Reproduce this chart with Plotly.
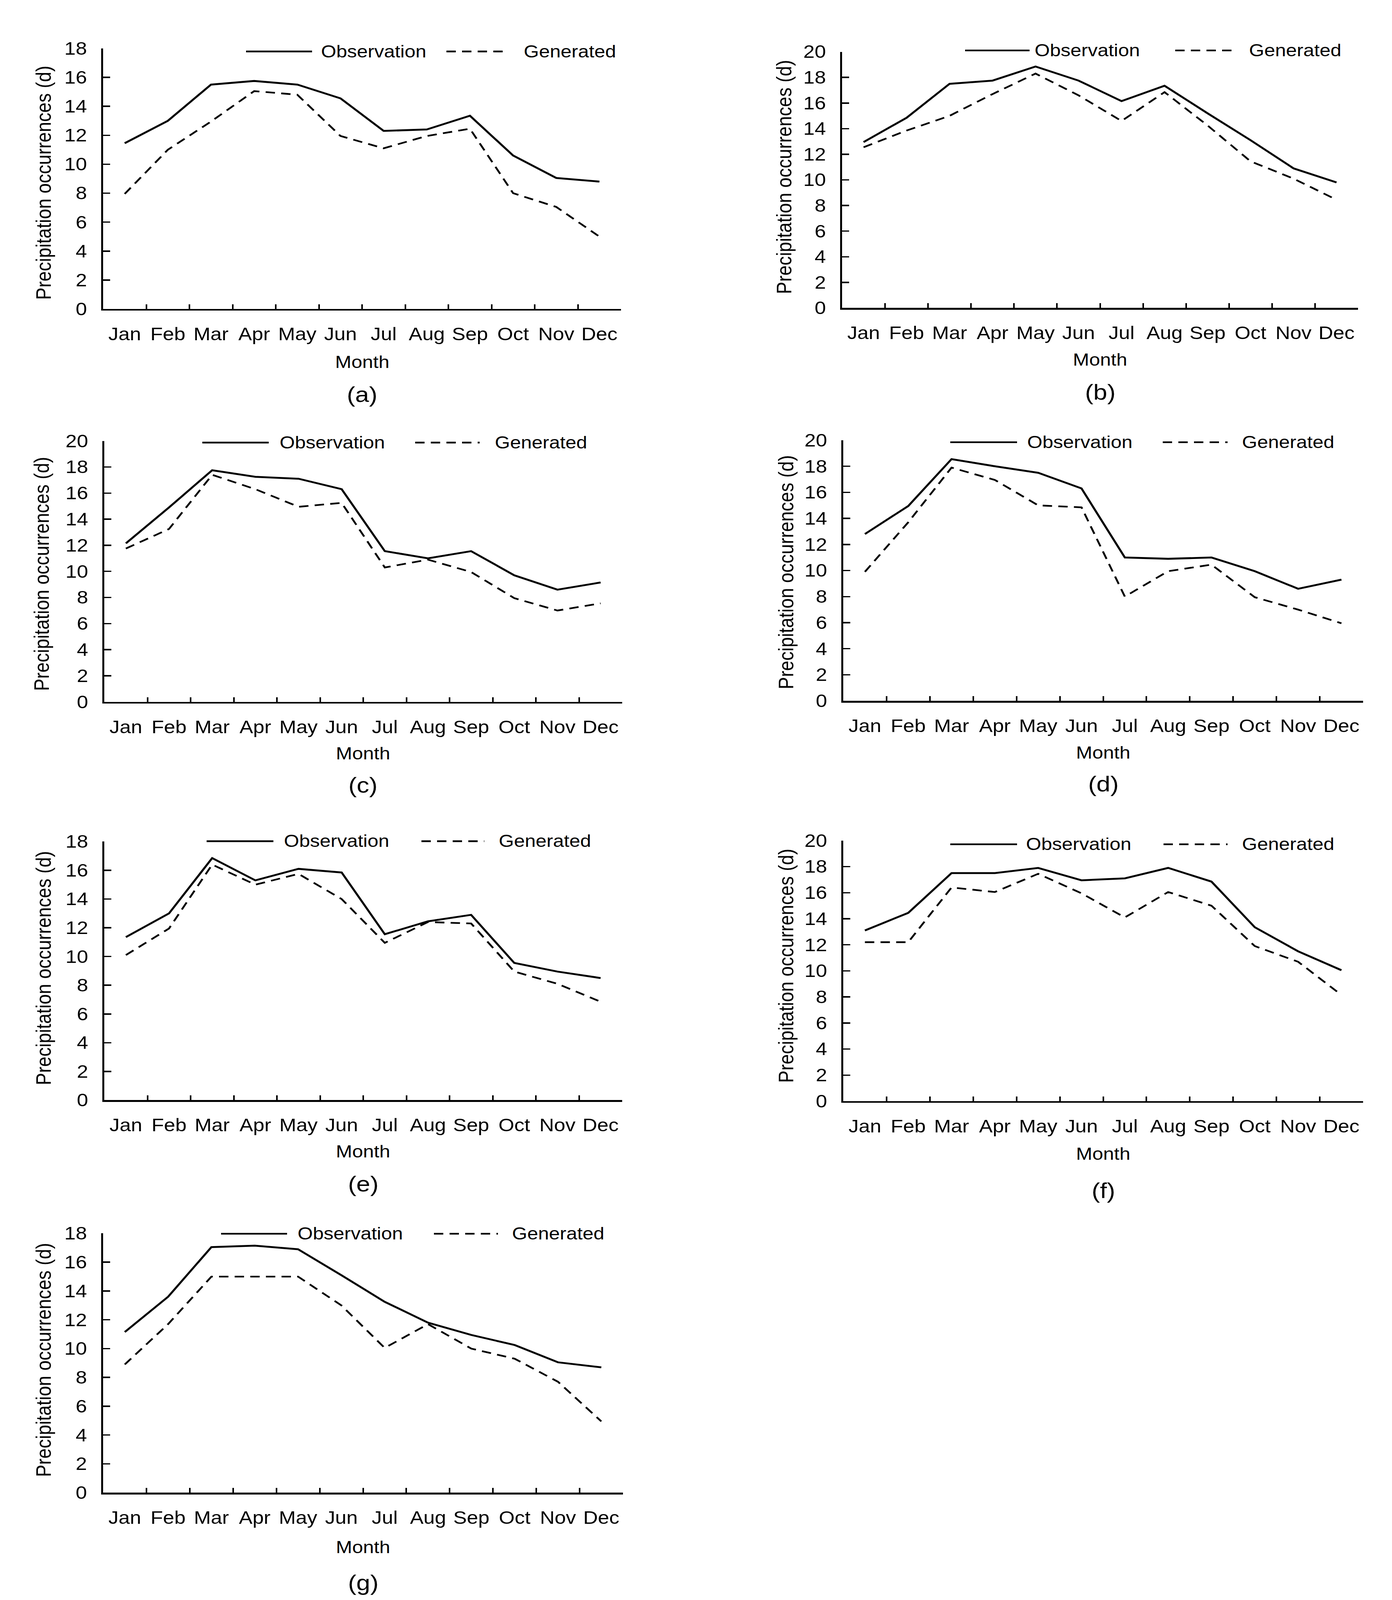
import plotly.graph_objects as go

W, H = 3564, 4696
FONT = "Liberation Sans, Arial, sans-serif"

months = ["Jan", "Feb", "Mar", "Apr", "May", "Jun", "Jul", "Aug", "Sep", "Oct", "Nov", "Dec"]
panel_labels = ["(a)", "(b)", "(c)", "(d)", "(e)", "(f)", "(g)"]
y_max = [18, 20, 20, 20, 18, 20, 18]

obs_a = [11.45, 13.0, 15.5, 15.75, 15.5, 14.55, 12.3, 12.4, 13.35, 10.6, 9.05, 8.8]
gen_a = [7.95, 11.0, 12.95, 15.05, 14.8, 11.95, 11.1, 11.95, 12.45, 8.0, 7.05, 5.0]
obs_b = [12.95, 14.85, 17.5, 17.75, 18.85, 17.75, 16.15, 17.35, 15.2, 13.1, 10.9, 9.8]
gen_b = [12.55, 13.85, 15.0, 16.7, 18.3, 16.6, 14.6, 16.85, 14.25, 11.45, 10.1, 8.45]
obs_c = [12.15, 14.9, 17.75, 17.25, 17.1, 16.3, 11.55, 11.0, 11.55, 9.7, 8.6, 9.15]
gen_c = [11.75, 13.25, 17.4, 16.3, 14.95, 15.25, 10.3, 10.9, 9.95, 7.95, 7.0, 7.55]
obs_d = [12.8, 14.95, 18.55, 18.0, 17.5, 16.3, 11.0, 10.9, 11.0, 9.95, 8.6, 9.3]
gen_d = [9.9, 13.7, 17.9, 16.95, 15.0, 14.85, 8.0, 9.95, 10.45, 7.95, 7.0, 5.95]
obs_e = [11.35, 13.0, 16.85, 15.3, 16.1, 15.85, 11.55, 12.45, 12.9, 9.55, 8.95, 8.5]
gen_e = [10.1, 11.95, 16.4, 15.0, 15.75, 14.0, 10.95, 12.4, 12.3, 8.95, 8.1, 6.85]
obs_f = [13.1, 14.45, 17.5, 17.5, 17.9, 16.95, 17.1, 17.9, 16.85, 13.35, 11.5, 10.05]
gen_f = [12.2, 12.2, 16.4, 16.05, 17.45, 15.95, 14.1, 16.05, 15.0, 11.9, 10.7, 8.15]
obs_g = [11.15, 13.6, 17.05, 17.15, 16.9, 15.1, 13.25, 11.8, 10.95, 10.25, 9.05, 8.7]
gen_g = [8.9, 11.7, 15.0, 15.0, 15.0, 13.0, 10.05, 11.7, 10.0, 9.3, 7.7, 4.95]

observed = [obs_a, obs_b, obs_c, obs_d, obs_e, obs_f, obs_g]
generated = [gen_a, gen_b, gen_c, gen_d, gen_e, gen_f, gen_g]

# layout geometry (reference pixels): axis x0, x1, y top, y bottom
geom = [
    dict(x0=264, x1=1590, yt=142, yb=907),
    dict(x0=2156, x1=3477, yt=152, yb=904),
    dict(x0=267, x1=1593, yt=1294, yb=2060),
    dict(x0=2159, x1=3490, yt=1292, yb=2057),
    dict(x0=267, x1=1593, yt=2470, yb=3229),
    dict(x0=2159, x1=3490, yt=2467, yb=3232),
    dict(x0=264, x1=1595, yt=3620, yb=4381),
]
# legend geometry: solid line x0,x1, text x; dashed x0,x1, text x; y
leg = [
    (630, 799, 820, 1143, 1302, 1339, 151),
    (2471, 2636, 2647, 3009, 3169, 3196, 148),
    (518, 688, 714, 1063, 1228, 1265, 1299),
    (2433, 2604, 2628, 2977, 3143, 3178, 1298),
    (529, 700, 725, 1079, 1240, 1275, 2469),
    (2433, 2604, 2625, 2979, 3143, 3178, 2478),
    (566, 735, 760, 1111, 1275, 1309, 3621),
]
ytitle_pos = [(111, 537), (2007, 520), (106, 1685), (2012, 1680), (111, 2842), (2012, 2835), (111, 3992)]
month_y = [1063, 1056, 2212, 2209, 3380, 3387, 4542]
label_y = [1158, 1151, 2304, 2301, 3475, 3494, 4645]

DASH = "24px,16px"


def fx(x):
    return x / W


def fy(y):
    return 1 - y / H


fig = go.Figure()
annotations = []
shapes = []
for i in range(7):
    g = geom[i]
    n = "" if i == 0 else str(i + 1)
    xa, ya = "x" + n, "y" + n
    fig.add_trace(go.Scatter(x=months, y=observed[i], mode="lines", xaxis=xa, yaxis=ya,
                             line=dict(color="black", width=5.5), showlegend=False))
    fig.add_trace(go.Scatter(x=months, y=generated[i], mode="lines", xaxis=xa, yaxis=ya,
                             line=dict(color="black", width=5, dash=DASH), showlegend=False))
    fig.layout["xaxis" + n] = dict(
        domain=[fx(g["x0"]), fx(g["x1"])], anchor=ya, type="category",
        categoryorder="array", categoryarray=months, range=[-0.5, 11.5],
        showline=True, linecolor="black", linewidth=5, ticks="inside", tickson="boundaries",
        ticklen=14, tickwidth=4, tickcolor="black", showgrid=False, zeroline=False,
        tickangle=0, automargin=False,
        tickfont=dict(family=FONT, size=52, color="black"), ticklabelstandoff=24,
        fixedrange=True)
    fig.layout["yaxis" + n] = dict(
        domain=[fy(g["yb"]), fy(g["yt"])], anchor=xa, range=[0, y_max[i]], dtick=2,
        tick0=0, showline=True, linecolor="black", linewidth=5, ticks="inside",
        ticklen=18, tickwidth=4, tickcolor="black", showgrid=False, zeroline=False,
        automargin=False,
        tickfont=dict(family=FONT, size=52, color="black"), ticklabelstandoff=26,
        fixedrange=True)

    s0, s1, ox, d0, d1, gx, ly = leg[i]
    shapes.append(dict(type="line", xref="paper", yref="paper", x0=fx(s0), x1=fx(s1),
                       y0=fy(ly), y1=fy(ly), line=dict(color="black", width=5)))
    shapes.append(dict(type="line", xref="paper", yref="paper", x0=fx(d0), x1=fx(d1),
                       y0=fy(ly), y1=fy(ly), line=dict(color="black", width=5, dash=DASH)))
    annotations.append(dict(text="Observation", x=fx(ox), y=fy(ly), xref="paper", yref="paper",
                            xanchor="left", yanchor="middle", showarrow=False,
                            font=dict(family=FONT, size=50, color="black")))
    annotations.append(dict(text="Generated", x=fx(gx), y=fy(ly), xref="paper", yref="paper",
                            xanchor="left", yanchor="middle", showarrow=False,
                            font=dict(family=FONT, size=50, color="black")))
    tx, ty = ytitle_pos[i]
    annotations.append(dict(text="Precipitation occurrences (d)", x=fx(tx), y=fy(ty),
                            xref="paper", yref="paper", xanchor="center", yanchor="middle",
                            textangle=-90, showarrow=False,
                            font=dict(family=FONT, size=54, color="black")))
    cx = (g["x0"] + g["x1"]) / 2
    annotations.append(dict(text="Month", x=fx(cx), y=fy(month_y[i]), xref="paper", yref="paper",
                            xanchor="center", yanchor="middle", showarrow=False,
                            font=dict(family=FONT, size=50, color="black")))
    annotations.append(dict(text=panel_labels[i], x=fx(cx), y=fy(label_y[i]), xref="paper",
                            yref="paper", xanchor="center", yanchor="middle", showarrow=False,
                            font=dict(family=FONT, size=64, color="black")))

fig.update_layout(width=W, height=H, autosize=False, margin=dict(l=0, r=0, t=0, b=0),
                  paper_bgcolor="white", plot_bgcolor="white",
                  annotations=annotations, shapes=shapes, showlegend=False)

# Fit the fixed-size figure into whatever viewport the browser gives.
post = """
var de = document.documentElement, bd = document.body;
de.style.margin = '0'; de.style.padding = '0'; de.style.overflow = 'hidden';
bd.style.margin = '0'; bd.style.padding = '0'; bd.style.overflow = 'hidden';
var gd = document.getElementById('{plot_id}');
var wrap = gd.parentElement;
wrap.style.width = '100vw'; wrap.style.height = '100vh'; wrap.style.overflow = 'hidden';
function fitFig() {
    var sx = window.innerWidth / %d, sy = window.innerHeight / %d;
    gd.style.transformOrigin = '0 0';
    gd.style.transform = 'scale(' + sx + ',' + sy + ')';
}
fitFig();
window.addEventListener('resize', fitFig);
""" % (W, H)

fig.write_html("out.html", config={"displayModeBar": False}, post_script=post)
